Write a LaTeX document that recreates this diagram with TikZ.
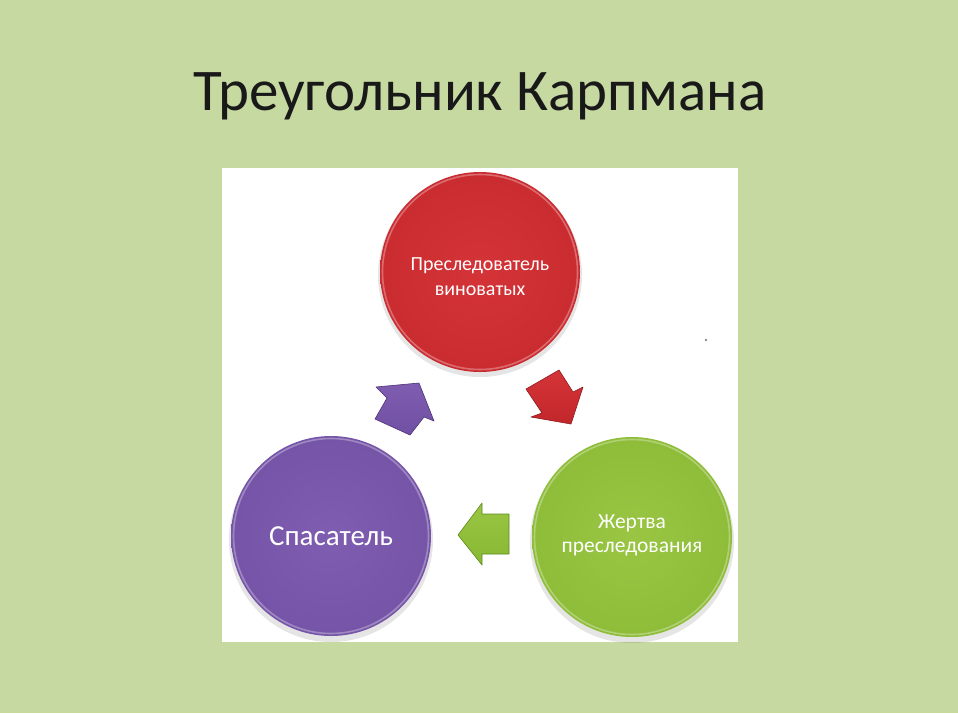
\documentclass[tikz,border=0pt]{standalone}
\usepackage{fontspec}
\setmainfont{Carlito}
\usetikzlibrary{shadings}
\definecolor{bg}{HTML}{C6D9A0}
\definecolor{redL}{HTML}{D43438}
\definecolor{redB}{HTML}{C3272B}
\definecolor{redD}{HTML}{8E1A1E}
\definecolor{purL}{HTML}{7F5DB1}
\definecolor{purB}{HTML}{7050A2}
\definecolor{purD}{HTML}{4E3478}
\definecolor{grnL}{HTML}{99C543}
\definecolor{grnB}{HTML}{88B834}
\definecolor{grnD}{HTML}{5F8A1E}
\pgfdeclareradialshading{redball}{\pgfpoint{0bp}{0bp}}{color(0bp)=(redL); color(40bp)=(redB); color(47bp)=(redB); color(50bp)=(redD); color(75bp)=(redD)}
\pgfdeclareradialshading{purball}{\pgfpoint{0bp}{0bp}}{color(0bp)=(purL); color(40bp)=(purB); color(47bp)=(purB); color(50bp)=(purD); color(75bp)=(purD)}
\pgfdeclareradialshading{grnball}{\pgfpoint{0bp}{0bp}}{color(0bp)=(grnL); color(40bp)=(grnB); color(47bp)=(grnB); color(50bp)=(grnD); color(75bp)=(grnD)}
\tikzset{
  ball/.style={circle, minimum size=200pt, inner sep=0pt, text=white, align=center},
  balltext/.style={text=white, align=center, inner sep=0pt},
  rim/.style={white, opacity=0.3, line width=1.6pt},
  shadowc/.style={black, opacity=0.10},
  blockarrow/.style={line width=0.6pt, line join=round},
}
\begin{document}
\begin{tikzpicture}[x=1pt,y=-1pt]
\useasboundingbox (0,0) rectangle (958,713);
\fill[bg] (0,0) rectangle (958,713);
\node[font=\fontsize{59}{70}\selectfont, anchor=base, text=black!90] (title) at (480,110) {Треугольник Карпмана};
\fill[white] (222,168) rectangle (738,642);
% dot
\fill[black!45] (706,340) circle (1.3);
% shadows
\fill[shadowc] (480,275) circle (102);
\fill[shadowc] (331,540) circle (102);
\fill[shadowc] (632,541) circle (102);
% circles
\node[ball, shading=redball, label={[balltext, font=\fontsize{20}{25}\selectfont, yshift=-4.5pt]center:Преследователь\\виноватых}] (per) at (480,272) {};
\node[ball, shading=purball, font=\fontsize{29}{32}\selectfont] (sav) at (331,536) {Спасатель};
\node[ball, shading=grnball, label={[balltext, font=\fontsize{21.5}{24}\selectfont, yshift=2pt]center:Жертва\\преследования}] (vic) at (632,537) {};
\foreach \n in {per,sav,vic}{
  \draw[rim] (\n.center) circle (97.5);
}
% arrows
\shade[blockarrow, top color=redL, bottom color=redB, draw=redD]
  (559,370) -- (573,392) -- (583,387) -- (571,424) -- (531,417) -- (542,413) -- (526,389) -- cycle;
\shade[blockarrow, top color=purL, bottom color=purB, draw=purD]
  (376,387) -- (419,383) -- (434,421) -- (424,417) -- (410,435) -- (375,419) -- (387,398) -- cycle;
\shade[blockarrow, top color=grnL, bottom color=grnB, draw=grnD]
  (458,535) -- (482,503) -- (482,514) -- (509,514) -- (509,554) -- (482,554) -- (482,565) -- cycle;
\end{tikzpicture}
\end{document}
